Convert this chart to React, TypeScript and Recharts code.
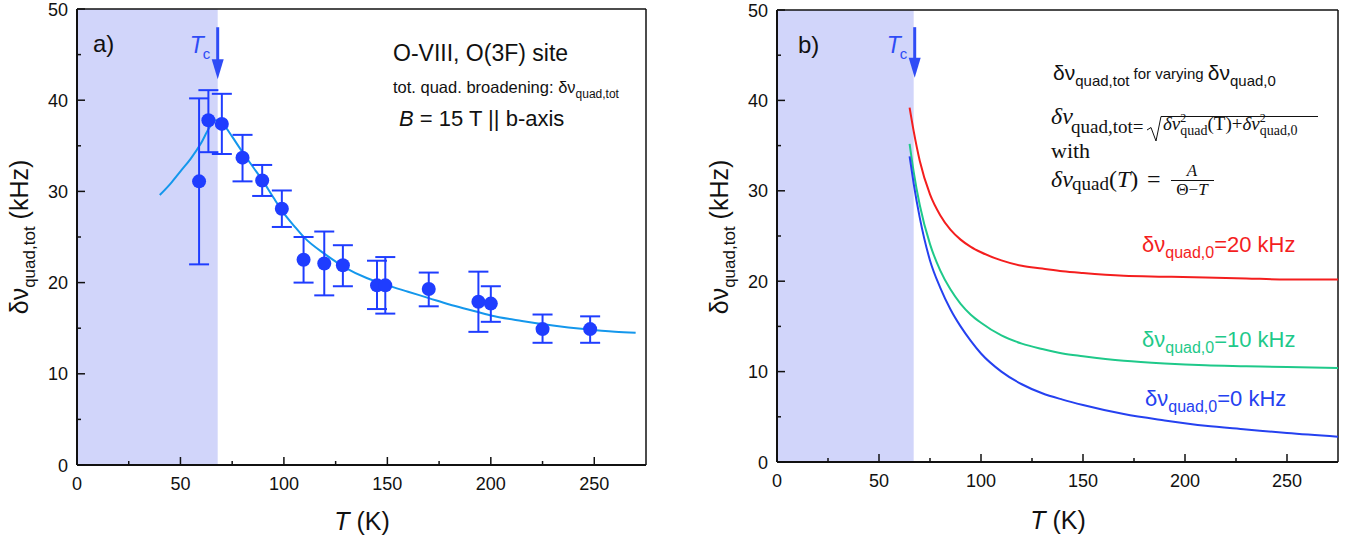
import React from 'react';
import {
  ComposedChart,
  Line,
  Scatter,
  ErrorBar,
  XAxis,
  YAxis,
  ReferenceArea,
  ReferenceLine,
} from 'recharts';

// axis ticks (majors get a label)
const tempTicks = [0, 25, 50, 75, 100, 125, 150, 175, 200, 225, 250];
const widthTicks = [0, 5, 10, 15, 20, 25, 30, 35, 40, 45, 50];

// panel a) measured linewidths with error bars
const measT = [59, 63.5, 70, 80, 89.5, 99, 109.5, 119.5, 128.5, 145, 149, 170, 194, 200, 225, 248];
const measV = [31.1, 37.8, 37.4, 33.7, 31.2, 28.1, 22.5, 22.1, 21.9, 19.7, 19.7, 19.3, 17.9, 17.7, 14.9, 14.9];
const measHi = [40.2, 41.1, 40.7, 36.2, 32.9, 30.1, 25.0, 25.6, 24.1, 22.4, 22.8, 21.1, 21.2, 19.6, 16.5, 16.3];
const measLo = [22.0, 34.3, 34.1, 31.1, 29.5, 26.1, 20.0, 18.6, 19.6, 17.1, 16.6, 17.4, 14.6, 15.7, 13.4, 13.4];

// panel a) fit curve
const fitT = [40, 45, 50, 55, 60, 64, 67, 70, 72, 75, 80, 85, 90, 95, 100, 105, 110, 120, 130, 140, 150, 160, 170, 180, 190, 200, 215, 230, 245, 260, 270];
const fitV = [29.6, 30.8, 32.2, 33.6, 35.3, 37.0, 37.8, 37.5, 37.0, 36.0, 34.3, 32.7, 31.1, 29.3, 27.6, 26.2, 24.9, 23.1, 21.6, 20.5, 19.7, 19.0, 18.3, 17.6, 17.0, 16.4, 15.8, 15.3, 14.9, 14.6, 14.5];

// panel b) model curves for three residual widths
const curveT = [65, 67, 70, 75, 80, 85, 90, 95, 100, 110, 120, 130, 140, 150, 170, 190, 210, 230, 250, 275];
const curve0 = [33.8, 30.8, 27.0, 22.3, 19.3, 16.9, 15.0, 13.4, 12.0, 10.0, 8.6, 7.6, 6.9, 6.3, 5.3, 4.6, 4.0, 3.6, 3.2, 2.8];
const curve10 = [35.2, 32.1, 28.4, 24.1, 21.2, 19.1, 17.5, 16.3, 15.4, 14.0, 13.1, 12.5, 12.0, 11.7, 11.2, 10.9, 10.7, 10.6, 10.5, 10.4];
const curve20 = [39.2, 36.6, 33.3, 29.6, 27.3, 25.7, 24.6, 23.8, 23.2, 22.3, 21.7, 21.4, 21.1, 20.9, 20.6, 20.5, 20.4, 20.3, 20.2, 20.2];

const SANS = '"Liberation Sans", Arial, sans-serif';
const SERIF = '"Liberation Serif", "Times New Roman", serif';
const INK = '#111';
const SHADE = '#D1D5FA';
const POINT = '#1F3DFF';
const FIT = '#1497EC';
const TC = '#2F4CF6';
const RED = '#F41E1E';
const GREEN = '#1FC98A';
const BLUE = '#2541F0';

const measData = measT.map((t, i) => ({
  T: t,
  v: measV[i],
  err: [measV[i] - measLo[i], measHi[i] - measV[i]],
}));
const fitData = fitT.map((t, i) => ({ T: t, v: fitV[i] }));
const curveData = curveT.map((t, i) => ({ T: t, b0: curve0[i], b10: curve10[i], b20: curve20[i] }));

const XTick = (props: any) => {
  const { x, y, payload } = props;
  const major = payload.value % 50 === 0;
  return (
    <g>
      <line x1={x} x2={x} y1={y} y2={y - (major ? 8 : 4)} stroke={INK} strokeWidth={1.5} />
      {major && (
        <text x={x} y={y + 25} textAnchor="middle" fontSize={18} fontFamily={SANS} fill={INK}>
          {payload.value}
        </text>
      )}
    </g>
  );
};

const YTick = (props: any) => {
  const { x, y, payload } = props;
  const major = payload.value % 10 === 0;
  return (
    <g>
      <line x1={x} x2={x + (major ? 8 : 4)} y1={y} y2={y} stroke={INK} strokeWidth={1.5} />
      {major && (
        <text x={x - 9} y={y + 6.5} textAnchor="end" fontSize={18} fontFamily={SANS} fill={INK}>
          {payload.value}
        </text>
      )}
    </g>
  );
};

// Tc arrow, drawn from the segment end points
const TcArrow = (p: any) => {
  const { x1, y1, x2, y2 } = p;
  return (
    <g>
      <line x1={x1} y1={y1} x2={x2} y2={y2 - 16} stroke={TC} strokeWidth={3} />
      <polygon points={`${x2 - 6},${y2 - 20} ${x2 + 6},${y2 - 20} ${x2},${y2}`} fill={TC} />
      <text x={x1 - 28} y={y1 + 26} fontSize={23} fontStyle="italic" fontFamily={SANS} fill={TC}>
        T
      </text>
      <text x={x1 - 15} y={y1 + 32} fontSize={15} fontFamily={SANS} fill={TC}>
        c
      </text>
    </g>
  );
};

const Frame = ({ tc }: { tc: number }) => [
  <ReferenceArea key="shade" x1={0} x2={tc} y1={0} y2={50} fill={SHADE} fillOpacity={1} stroke="none" ifOverflow="visible" />,
  <ReferenceLine key="top" y={50} stroke={INK} strokeWidth={1.5} ifOverflow="visible" />,
  <ReferenceLine key="right" x={275} stroke={INK} strokeWidth={1.5} ifOverflow="visible" />,
];

// axes are 1px thick so recharts still draws them; ticks are custom (inward)
const axes = () => [
  <XAxis
    key="x"
    dataKey="T"
    type="number"
    domain={[0, 275]}
    ticks={tempTicks}
    interval={0}
    height={1}
    tickSize={0}
    tickMargin={0}
    tickLine={false}
    axisLine={{ stroke: INK, strokeWidth: 2 }}
    tick={(p: any) => <XTick {...p} />}
    allowDataOverflow
  />,
  <YAxis
    key="y"
    type="number"
    domain={[0, 50]}
    ticks={widthTicks}
    interval={0}
    width={1}
    tickSize={0}
    tickMargin={0}
    tickLine={false}
    axisLine={{ stroke: INK, strokeWidth: 2 }}
    tick={(p: any) => <YTick {...p} />}
    allowDataOverflow
  />,
];

function Sub({ children, size, dy }: { children: React.ReactNode; size: number; dy: number }) {
  return (
    <tspan fontSize={size} dy={dy}>
      {children}
    </tspan>
  );
}

export default function App() {
  return (
    <div style={{ position: 'absolute', left: 0, top: 0, width: 1352, height: 542, background: '#fff' }}>
      <div style={{ position: 'absolute', left: 0, top: 0 }}>
        <ComposedChart width={680} height={542} margin={{ top: 9, right: 34, bottom: 76, left: 76 }}>
          {Frame({ tc: 68 })}
          {axes()}
          <Line data={fitData} dataKey="v" type="monotone" stroke={FIT} strokeWidth={2} dot={false} isAnimationActive={false} />
          <Scatter
            data={measData}
            dataKey="v"
            fill={POINT}
            isAnimationActive={false}
            shape={(p: any) => <circle cx={p.cx} cy={p.cy} r={7} fill={POINT} />}
          >
            <ErrorBar dataKey="err" direction="y" width={10} stroke={POINT} strokeWidth={2} isAnimationActive={false} />
          </Scatter>
          <ReferenceLine segment={[{ x: 68, y: 48 }, { x: 68, y: 42.3 }]} ifOverflow="visible" shape={(p: any) => <TcArrow {...p} />} />
        </ComposedChart>
      </div>
      <div style={{ position: 'absolute', left: 680, top: 0 }}>
        <ComposedChart width={672} height={542} data={curveData} margin={{ top: 10, right: 14, bottom: 79, left: 96 }}>
          {Frame({ tc: 67 })}
          {axes()}
          <Line dataKey="b20" type="monotone" stroke={RED} strokeWidth={2} dot={false} isAnimationActive={false} />
          <Line dataKey="b10" type="monotone" stroke={GREEN} strokeWidth={2} dot={false} isAnimationActive={false} />
          <Line dataKey="b0" type="monotone" stroke={BLUE} strokeWidth={2} dot={false} isAnimationActive={false} />
          <ReferenceLine segment={[{ x: 67.5, y: 48.1 }, { x: 67.5, y: 42.5 }]} ifOverflow="visible" shape={(p: any) => <TcArrow {...p} />} />
        </ComposedChart>
      </div>

      <svg width={1352} height={542} style={{ position: 'absolute', left: 0, top: 0, pointerEvents: 'none' }}>
        {/* panel a) annotations */}
        <text x={93} y={52} fontSize={24} fontFamily={SANS} fill={INK}>a)</text>
        <text x={393} y={61} fontSize={23} fontFamily={SANS} fill={INK}>O-VIII, O(3F) site</text>
        <text x={393} y={93} fontSize={16.5} fontFamily={SANS} fill={INK}>
          tot. quad. broadening: δν<Sub size={12} dy={5}>quad,tot</Sub>
        </text>
        <text x={399} y={126} fontSize={22} fontFamily={SANS} fill={INK}>
          <tspan fontStyle="italic">B</tspan> = 15 T || b-axis
        </text>
        <text transform="translate(28,237) rotate(-90)" textAnchor="middle" fontSize={25} fontFamily={SANS} fill={INK}>
          δν<Sub size={17} dy={7}>quad,tot</Sub>
          <tspan dy={-7}> (kHz)</tspan>
        </text>
        <text x={362} y={530} textAnchor="middle" fontSize={25} fontFamily={SANS} fill={INK}>
          <tspan fontStyle="italic">T</tspan> (K)
        </text>

        {/* panel b) annotations */}
        <text x={798} y={53} fontSize={24} fontFamily={SANS} fill={INK}>b)</text>
        <text transform="translate(728,237) rotate(-90)" textAnchor="middle" fontSize={25} fontFamily={SANS} fill={INK}>
          δν<Sub size={17} dy={7}>quad,tot</Sub>
          <tspan dy={-7}> (kHz)</tspan>
        </text>
        <text x={1058} y={529} textAnchor="middle" fontSize={25} fontFamily={SANS} fill={INK}>
          <tspan fontStyle="italic">T</tspan> (K)
        </text>

        <text x={1053} y={80} fontSize={21} fontFamily={SANS} fill={INK}>
          δν<Sub size={15} dy={6}>quad,tot</Sub>
          <tspan fontSize={15} dy={-7}> for varying </tspan>
          <tspan fontSize={21} dy={1}>δν</tspan>
          <Sub size={15} dy={6}>quad,0</Sub>
        </text>

        <g fontFamily={SERIF} fill={INK}>
          <text x={1051} y={124} fontSize={24} fontStyle="italic">δν</text>
          <text x={1071} y={133} fontSize={19}>quad,tot=</text>
          <path d="M1147,130 L1151,127.5 L1156,141 L1161,116.5 L1318,116.5" fill="none" stroke={INK} strokeWidth={1} />
          <text x={1163} y={130} fontSize={19}>
            <tspan fontStyle="italic">δν</tspan>
            <tspan fontSize={12} dy={-8}>2</tspan>
            <tspan fontSize={14} dx={-6} dy={13}>quad</tspan>
            <tspan dy={-5}>(T)+</tspan>
            <tspan fontStyle="italic">δν</tspan>
            <tspan fontSize={12} dy={-8}>2</tspan>
            <tspan fontSize={14} dx={-6} dy={13}>quad,0</tspan>
          </text>

          <text x={1051} y={158} fontSize={22}>with</text>

          <text x={1051} y={187} fontSize={24} fontStyle="italic">δν</text>
          <text x={1072} y={190} fontSize={19}>quad</text>
          <text x={1109} y={187} fontSize={24}>
            (<tspan fontStyle="italic">T</tspan>)
          </text>
          <text x={1147} y={187} fontSize={24}>=</text>
          <text x={1192} y={176} fontSize={17} fontStyle="italic" textAnchor="middle">A</text>
          <line x1={1171} x2={1214} y1={180.5} y2={180.5} stroke={INK} strokeWidth={1} />
          <text x={1192} y={195} fontSize={17} textAnchor="middle">
            Θ−<tspan fontStyle="italic">T</tspan>
          </text>
        </g>

        <text x={1142} y={252} fontSize={22} fontFamily={SANS} fill={RED}>
          δν<Sub size={16} dy={6}>quad,0</Sub>
          <tspan dy={-6}>=20 kHz</tspan>
        </text>
        <text x={1142} y={347} fontSize={22} fontFamily={SANS} fill={GREEN}>
          δν<Sub size={16} dy={6}>quad,0</Sub>
          <tspan dy={-6}>=10 kHz</tspan>
        </text>
        <text x={1145} y={406} fontSize={22} fontFamily={SANS} fill={BLUE}>
          δν<Sub size={16} dy={6}>quad,0</Sub>
          <tspan dy={-6}>=0 kHz</tspan>
        </text>
      </svg>
    </div>
  );
}
